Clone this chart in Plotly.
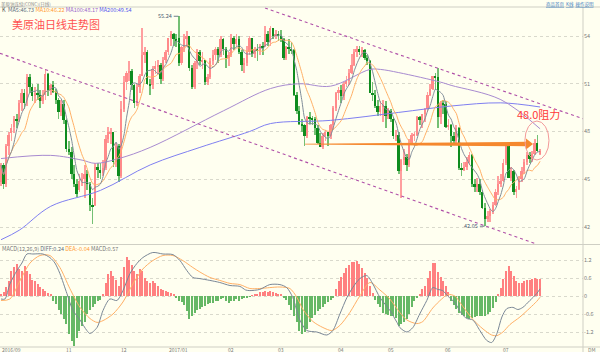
import plotly.graph_objects as go
import pandas as pd

# ---------------- data ----------------
MONTH_TICK_IDX = [2, 26, 47, 68, 88, 107, 130, 149, 171, 193]
MONTH_TICK_TEXT = ["2016/09", "11", "12", "2017/01", "02", "03", "04", "05", "06", "07"]

OPEN = [44.8, 45.9, 44.7, 47.1, 47.9, 48.3, 48.8, 48.7, 49.8, 50.4,
        50.0, 51.4, 50.8, 50.2, 50.4, 50.3, 49.9, 50.3, 51.6, 50.6,
        50.9, 50.5, 50.0, 49.2, 49.7, 48.7, 46.9, 46.7, 45.3, 44.7,
        44.3, 44.9, 45.0, 45.3, 44.7, 43.4, 43.4, 45.8, 45.6, 45.4,
        45.7, 47.5, 47.9, 48.0, 46.1, 47.1, 45.2, 49.4, 51.1, 51.7,
        51.8, 50.9, 49.8, 50.8, 51.5, 52.8, 53.0, 51.0, 50.9, 51.9,
        52.1, 52.2, 51.3, 52.5, 53.0, 53.9, 54.1, 53.8, 53.9, 52.3,
        53.3, 53.8, 54.0, 52.0, 50.8, 52.3, 53.0, 52.4, 52.5, 51.1,
        51.4, 52.4, 52.8, 53.2, 52.8, 53.8, 53.2, 52.6, 52.8, 53.9,
        53.5, 53.8, 53.0, 52.2, 52.3, 53.0, 53.9, 52.9, 53.2, 53.1,
        53.4, 53.4, 54.1, 53.6, 54.5, 54.0, 54.1, 54.0, 53.8, 52.6,
        53.3, 53.2, 53.1, 50.3, 49.3, 48.5, 48.4, 47.7, 48.9, 48.8,
        48.8, 48.2, 47.3, 47.0, 47.7, 48.0, 47.7, 48.4, 49.5, 50.4,
        50.6, 50.2, 51.0, 51.2, 51.7, 52.2, 53.0, 53.2, 53.0, 53.1,
        52.6, 52.4, 50.4, 50.3, 49.6, 49.2, 49.6, 49.6, 49.0, 49.3,
        48.8, 47.7, 47.8, 45.5, 46.2, 46.4, 45.9, 47.3, 47.75, 47.8,
        48.9, 48.7, 49.1, 49.4, 50.3, 50.7, 51.5, 51.4, 48.9, 49.8,
        49.7, 48.3, 48.4, 47.7, 47.4, 48.2, 45.7, 45.6, 45.8, 46.1,
        46.5, 44.7, 44.5, 44.7, 44.2, 43.2, 42.5, 42.7, 43.0, 43.4,
        44.2, 44.7, 44.9, 46.0, 47.1, 45.1, 45.5, 44.2, 44.4, 45.0,
        45.5, 46.1, 46.5, 46.3, 46.6, 47.3, 46.6]
HIGH = [46.0, 46.0, 47.2, 48.0, 48.5, 49.0, 49.1, 50.0, 50.7, 50.7,
        51.6, 51.6, 51.0, 50.8, 51.0, 50.6, 50.6, 51.9, 51.7, 51.0,
        51.2, 50.7, 50.1, 50.0, 50.0, 48.8, 47.4, 47.0, 45.9, 45.0,
        45.3, 45.4, 45.9, 45.6, 44.8, 43.8, 46.0, 46.0, 46.0, 46.2,
        47.8, 48.3, 48.2, 48.0, 47.3, 47.2, 49.9, 51.5, 51.8, 52.4,
        51.9, 51.0, 51.0, 51.6, 54.5, 53.3, 53.1, 51.3, 52.1, 52.4,
        52.5, 52.3, 52.7, 53.1, 53.9, 54.3, 54.2, 54.1, 55.24, 53.4,
        54.1, 54.3, 54.0, 52.2, 52.4, 53.2, 53.1, 53.0, 52.5, 51.6,
        52.6, 53.1, 53.3, 53.3, 54.0, 53.9, 53.3, 53.0, 54.1, 54.0,
        54.1, 54.0, 53.1, 52.6, 53.4, 54.0, 53.9, 53.3, 53.5, 53.5,
        53.6, 54.6, 54.3, 54.6, 54.5, 54.4, 54.3, 54.4, 53.9, 53.4,
        53.8, 53.6, 53.2, 50.5, 49.6, 48.8, 48.5, 49.0, 49.2, 49.0,
        48.9, 48.4, 47.9, 47.9, 48.1, 48.0, 48.5, 49.6, 50.5, 50.8,
        50.9, 51.1, 51.5, 51.9, 52.9, 53.2, 53.4, 53.4, 53.3, 53.2,
        52.8, 52.5, 51.1, 50.6, 50.0, 49.9, 50.0, 49.9, 49.5, 49.4,
        48.9, 48.1, 48.0, 46.3, 46.9, 46.6, 47.5, 47.9, 48.0, 49.0,
        49.0, 49.1, 49.5, 50.5, 51.0, 51.5, 51.7, 52.0, 49.9, 50.0,
        49.9, 48.8, 48.5, 48.0, 48.4, 48.3, 46.0, 46.1, 46.4, 46.7,
        46.6, 45.0, 45.1, 45.0, 44.3, 43.5, 43.0, 43.1, 43.6, 44.4,
        45.2, 45.3, 46.3, 47.3, 47.3, 45.8, 45.6, 44.6, 45.2, 45.8,
        46.3, 46.7, 46.7, 46.8, 47.5, 47.8, 46.9]
LOW = [44.6, 44.4, 44.5, 46.5, 47.4, 47.9, 48.2, 48.6, 49.3, 49.4,
       49.6, 50.4, 49.9, 49.8, 50.0, 49.5, 49.7, 50.0, 50.2, 50.3,
       50.4, 49.7, 48.8, 49.0, 48.5, 46.7, 46.5, 45.0, 44.5, 43.9,
       44.2, 44.6, 43.8, 44.3, 43.0, 42.2, 43.3, 45.1, 45.0, 45.2,
       45.6, 47.3, 47.2, 45.8, 45.8, 44.8, 45.1, 49.2, 50.6, 51.2,
       50.6, 49.5, 49.6, 50.4, 51.5, 52.3, 50.9, 50.3, 50.7, 51.6,
       51.6, 51.0, 51.2, 52.3, 52.8, 53.4, 53.4, 53.3, 52.1, 52.2,
       53.0, 53.3, 51.8, 50.7, 50.7, 51.9, 52.2, 51.9, 50.9, 50.9,
       51.3, 52.2, 52.5, 52.3, 52.7, 52.8, 52.0, 52.1, 52.7, 53.1,
       53.3, 52.9, 51.8, 51.7, 52.1, 52.8, 52.7, 52.6, 52.4, 52.8,
       52.8, 53.3, 53.4, 53.4, 53.8, 53.8, 53.7, 53.6, 52.5, 52.5,
       52.9, 52.9, 50.2, 49.1, 48.4, 48.0, 47.1, 47.6, 48.5, 48.4,
       47.8, 47.2, 47.0, 46.9, 47.4, 47.1, 47.5, 48.1, 49.3, 50.0,
       49.8, 50.0, 50.8, 50.9, 51.6, 52.1, 52.7, 52.8, 52.7, 52.5,
       52.2, 50.4, 49.9, 49.5, 49.0, 49.0, 48.6, 48.2, 48.8, 48.6,
       47.5, 47.4, 45.3, 43.8, 45.9, 45.5, 45.8, 47.2, 47.4, 47.7,
       48.4, 48.2, 48.6, 49.2, 50.2, 50.6, 50.6, 48.2, 48.5, 49.1,
       48.2, 48.1, 47.0, 47.2, 47.3, 45.6, 45.2, 45.5, 45.6, 45.9,
       44.5, 44.2, 44.2, 44.0, 43.1, 42.05, 42.3, 42.3, 42.8, 43.3,
       44.0, 44.5, 44.8, 45.9, 45.1, 44.9, 44.0, 43.8, 44.3, 44.8,
       45.3, 45.9, 46.0, 46.1, 46.5, 46.7, 46.5]
CLOSE = [45.9, 44.7, 47.1, 47.8, 48.2, 48.8, 48.7, 49.8, 50.4, 49.8,
         51.4, 50.8, 50.2, 50.4, 50.3, 49.9, 50.3, 51.6, 50.6, 50.9,
         50.5, 50.0, 49.2, 49.7, 48.7, 46.9, 46.7, 45.3, 44.7, 44.1,
         44.9, 45.0, 45.3, 44.7, 43.4, 43.3, 45.8, 45.6, 45.4, 45.7,
         47.5, 48.0, 48.0, 46.1, 47.1, 45.2, 49.4, 51.1, 51.7, 51.8,
         50.9, 49.8, 50.8, 51.5, 52.8, 53.0, 51.0, 50.9, 51.9, 52.1,
         52.2, 51.3, 52.5, 53.0, 53.9, 54.1, 53.8, 53.7, 52.3, 53.3,
         53.8, 54.0, 52.0, 50.8, 52.3, 53.0, 52.4, 52.5, 51.1, 51.4,
         52.4, 52.8, 53.2, 52.8, 53.8, 53.2, 52.6, 52.8, 53.9, 53.5,
         53.8, 53.0, 52.2, 52.3, 53.0, 53.9, 52.9, 53.2, 53.1, 53.4,
         53.3, 54.1, 53.6, 54.5, 54.0, 54.1, 54.0, 53.8, 52.6, 53.3,
         53.2, 53.1, 50.3, 49.3, 48.5, 48.4, 47.7, 48.9, 48.8, 48.75,
         48.2, 47.3, 47.0, 47.7, 48.0, 47.7, 48.4, 49.5, 50.4, 50.6,
         50.2, 51.0, 51.2, 51.7, 52.2, 53.0, 53.2, 53.0, 53.1, 52.6,
         52.4, 50.4, 50.3, 49.6, 49.2, 49.6, 49.6, 49.0, 49.3, 48.8,
         47.7, 47.8, 45.5, 46.2, 46.4, 45.9, 47.3, 47.8, 47.85, 48.9,
         48.7, 49.1, 49.4, 50.3, 50.7, 51.5, 51.4, 48.9, 49.8, 49.7,
         48.3, 48.4, 47.7, 47.4, 48.2, 45.7, 45.6, 45.8, 46.1, 46.5,
         44.7, 44.5, 44.7, 44.2, 43.2, 42.5, 42.7, 43.0, 43.4, 44.2,
         44.7, 44.9, 46.0, 47.1, 45.1, 45.5, 44.2, 44.4, 45.0, 45.5,
         46.1, 46.5, 46.3, 46.6, 47.3, 46.8, 46.8]

MACD_HIST = [0.08, 0.15, 0.30, 0.50, 0.85, 0.96, 1.08, 0.90, 0.85, 1.00,
             0.85, 0.75, 0.55, 0.50, 0.40, 0.30, 0.25, 0.18, 0.10, 0.04,
             -0.15, -0.28, -0.45, -0.60, -0.75, -0.92, -1.25, -1.50, -1.65, -1.40,
             -1.15, -1.00, -0.85, -0.60, -0.45, -0.37, -0.25, -0.18, -0.12, 0.05,
             0.45, 0.75, 0.85, 0.68, 0.55, 0.35, 0.65, 0.96, 1.30, 1.20,
             1.05, 0.85, 0.75, 0.90, 0.85, 0.60, 0.50, 0.45, 0.50, 0.42,
             0.35, 0.25, 0.20, 0.18, 0.12, 0.10, 0.06, -0.05, -0.15, -0.20,
             -0.30, -0.50, -0.75, -0.65, -0.55, -0.48, -0.42, -0.38, -0.32, -0.28,
             -0.22, -0.22, -0.18, -0.15, -0.10, -0.05, -0.15, -0.22, -0.18, -0.15,
             -0.10, -0.15, -0.10, -0.08, -0.05, -0.02, 0.02, 0.04, 0.06, 0.12,
             0.15, 0.18, 0.15, 0.17, 0.13, 0.10, 0.08, 0.04, -0.05, -0.12,
             -0.30, -0.45, -0.65, -0.85, -1.15, -1.25, -1.20, -1.10, -0.85, -0.72,
             -0.62, -0.50, -0.42, -0.36, -0.28, -0.20, -0.12, -0.05, 0.25, 0.50,
             0.65, 0.78, 0.92, 1.05, 1.12, 1.15, 1.18, 1.08, 0.95, 0.78,
             0.60, 0.35, 0.10, -0.12, -0.25, -0.38, -0.55, -0.60, -0.63, -0.65,
             -0.68, -0.72, -1.00, -0.92, -0.85, -0.75, -0.60, -0.38, -0.18, -0.05,
             0.08, 0.25, 0.35, 0.60, 0.85, 1.10, 1.10, 0.80, 0.62, 0.50,
             0.35, 0.15, -0.15, -0.30, -0.42, -0.55, -0.62, -0.68, -0.72, -0.75,
             -0.73, -0.70, -0.68, -0.65, -0.68, -0.66, -0.60, -0.52, -0.40, -0.20,
             0.05, 0.28, 0.58, 0.85, 1.00, 0.85, 0.68, 0.50, 0.45, 0.45,
             0.50, 0.55, 0.52, 0.58, 0.60, 0.58, 0.57]

DIFF_X = [0, 1.5, 3.4, 6.1, 8, 9.9, 12.2, 16, 18.7, 20.6,
          22.5, 25.2, 27.5, 30.2, 32.8, 34, 36.7, 39, 41.6, 44.3,
          46.6, 49.3, 51.9, 54.2, 58, 61.9, 65.7, 68.4, 71, 73.3,
          76, 79.8, 83.6, 87.5, 91.3, 93.5, 95.1, 98.9, 102.7, 106.6,
          109.2, 111.5, 114.2, 116.9, 120.7, 124.5, 126.8, 129.5, 132.2, 134.4,
          137.1, 139.8, 142.1, 144.8, 148.6, 151.3, 152.4, 155.1, 157.4, 160,
          162.7, 165, 166.9, 168.8, 170.7, 173.4, 176.1, 178, 180.3, 183,
          185.6, 187.5, 189.5, 191.4, 193.3, 195.6, 197.5, 199.4, 202.1, 204.7,
          206]
DIFF_Y = [-0.10, -0.10, 0.40, 0.85, 1.10, 1.40, 1.40, 1.40, 1.28, 1.10,
          0.75, 0.08, -0.48, -0.80, -1.15, -1.25, -1.05, -0.48, -0.10, -0.15,
          0.18, 0.75, 1.08, 1.28, 1.45, 1.40, 1.38, 1.18, 0.85, 0.62,
          0.58, 0.52, 0.45, 0.35, 0.32, 0.20, 0.18, 0.22, 0.38, 0.38,
          0.28, -0.05, -0.80, -1.15, -1.20, -1.30, -1.15, -0.60, -0.05, 0.28,
          0.58, 0.68, 0.40, -0.05, -0.48, -0.88, -1.05, -1.20, -1.05, -0.60,
          -0.15, 0.28, 0.22, 0.18, 0.00, -0.22, -0.60, -0.75, -0.80, -1.15,
          -1.48, -1.55, -1.25, -0.70, -0.42, -0.38, -0.45, -0.38, -0.15, 0.08,
          0.24]
DEA_X = [0, 3.4, 7.2, 11.1, 14.9, 18.7, 22.5, 26.3, 30.2, 34,
         36.7, 39, 42.8, 46.6, 50.4, 54.2, 58, 61.9, 65.7, 69.5,
         73.3, 76, 79.8, 83.6, 87.5, 91.3, 95.1, 98.9, 102.7, 106.6,
         110.4, 113.1, 115.4, 119.2, 123, 126.4, 129.5, 133.3, 137.1, 141,
         144.8, 148.6, 152.4, 155.1, 158.9, 161.2, 165, 168.4, 170.7, 173.4,
         176.5, 180.3, 184.2, 187.5, 189.5, 191.8, 194.5, 198.3, 202.1, 204.7,
         206]
DEA_Y = [-0.15, -0.10, 0.50, 1.10, 1.35, 1.35, 0.95, 0.25, -0.38, -0.75,
         -0.88, -0.82, -0.60, -0.20, 0.40, 0.90, 1.18, 1.35, 1.35, 1.18,
         0.95, 0.80, 0.62, 0.52, 0.42, 0.38, 0.25, 0.25, 0.28, 0.30,
         0.25, -0.05, -0.45, -0.85, -1.05, -1.15, -0.98, -0.55, 0.00, 0.45,
         0.20, -0.10, -0.55, -0.80, -0.92, -0.85, -0.40, -0.10, 0.05, 0.00,
         -0.35, -0.78, -1.10, -1.30, -1.32, -1.20, -0.95, -0.70, -0.40, -0.18,
         -0.04]

MA100_X = [0, 19, 31, 36, 45, 57, 85, 103, 114, 126, 141, 145, 152, 168, 172, 191, 206]
MA100_Y = [46.3, 46.5, 46.2, 46.0, 46.3, 47.0, 49.3, 50.7, 51.0, 50.85, 51.9, 51.9, 51.7, 51.1, 50.9, 50.0, 48.17]
MA200_X = [0, 7, 19, 38, 57, 76, 95, 103, 126, 152, 172, 191, 206]
MA200_Y = [41.2, 41.8, 43.3, 44.3, 45.9, 47.0, 48.0, 48.5, 48.7, 49.2, 49.6, 49.8, 49.54]

PRICE_TICKS = [42, 45, 48, 51, 54]
MACD_TICKS = [-1.2, -0.6, 0, 0.6, 1.2]
MACD_TICK_TEXT = ["-1.2", "-0.6", "0", "0.6", "1.2"]

# annotation geometry in data units (candle index, price)
TREND_LOWER_X = [-0.38, 204.05]
TREND_LOWER_Y = [52.91, 40.96]
TREND_UPPER_X = [100.9, 222.4]
TREND_UPPER_Y = [55.76, 48.80]
ARROW_X = [116.2, 203.3]
ARROW_LEVEL = 47.21
CIRCLE_X = [200.2, 209.4]
CIRCLE_Y = [46.21, 48.66]
RESIST_POS = (205.3, 49.10)
RESIST_TEXT = "48.0阻力"
TITLE = "美原油日线走势图"

# ---------------- styling ----------------
BG = "#fffff0"
UP_BODY, UP_WICK = "#ff8a8a", "#ff9f9f"
DN_BODY, DN_WICK = "#0e8c1e", "#74c074"
C_MA5, C_MA10, C_MA100, C_MA200 = "#7f8c99", "#ffb066", "#a88bd0", "#7f7ff0"
FONT = "Noto Sans CJK SC"
XR = [-0.38, 222.4]
PR = [40.932, 55.822]
MR = [-1.7, 1.7]
H = 352.0
W_PLOT = 583.0

def py(p):
    return 1 - p / H

N = len(CLOSE)
IDX = list(range(N))
is_up = [c >= o for o, c in zip(OPEN, CLOSE)]
body_base = [min(o, c) for o, c in zip(OPEN, CLOSE)]
body_h = [max(abs(c - o), 0.05) for o, c in zip(OPEN, CLOSE)]
wick_h = [h - l for h, l in zip(HIGH, LOW)]

closes = pd.Series(CLOSE)
ma5 = closes.rolling(5, min_periods=1).mean()
ma10 = closes.rolling(10, min_periods=1).mean()

fig = go.Figure()
fig.add_trace(go.Bar(x=IDX, y=wick_h, base=LOW, width=0.3,
                     marker=dict(color=[UP_WICK if u else DN_WICK for u in is_up], line=dict(width=0)),
                     xaxis="x", yaxis="y", hoverinfo="skip"))
fig.add_trace(go.Bar(x=IDX, y=body_h, base=body_base, width=0.72,
                     marker=dict(color=[UP_BODY if u else DN_BODY for u in is_up], line=dict(width=0)),
                     xaxis="x", yaxis="y", hoverinfo="skip"))
fig.add_trace(go.Scatter(x=MA200_X, y=MA200_Y, mode="lines", line=dict(color=C_MA200, width=1, shape="spline"),
                         xaxis="x", yaxis="y"))
fig.add_trace(go.Scatter(x=MA100_X, y=MA100_Y, mode="lines", line=dict(color=C_MA100, width=1, shape="spline"),
                         xaxis="x", yaxis="y"))
fig.add_trace(go.Scatter(x=IDX, y=ma10, mode="lines", line=dict(color=C_MA10, width=1, shape="spline", smoothing=0.6),
                         xaxis="x", yaxis="y"))
fig.add_trace(go.Scatter(x=IDX, y=ma5, mode="lines", line=dict(color=C_MA5, width=1, shape="spline", smoothing=0.6),
                         xaxis="x", yaxis="y"))

# MACD panel
fig.add_trace(go.Bar(x=IDX, y=MACD_HIST, width=0.42,
                     marker=dict(color=["#ff8080" if v >= 0 else "#66b866" for v in MACD_HIST], line=dict(width=0)),
                     xaxis="x2", yaxis="y2", hoverinfo="skip"))
fig.add_trace(go.Scatter(x=DEA_X, y=DEA_Y, mode="lines", line=dict(color=C_MA10, width=1, shape="spline", smoothing=0.8),
                         xaxis="x2", yaxis="y2"))
fig.add_trace(go.Scatter(x=DIFF_X, y=DIFF_Y, mode="lines", line=dict(color="#7a8796", width=1, shape="spline", smoothing=0.8),
                         xaxis="x2", yaxis="y2"))

shapes = []
# channel lines
for xs, ys in ((TREND_LOWER_X, TREND_LOWER_Y), (TREND_UPPER_X, TREND_UPPER_Y)):
    shapes.append(dict(type="line", xref="x", yref="y", x0=xs[0], x1=xs[1], y0=ys[0], y1=ys[1],
                       line=dict(color="#b050a8", width=1.1, dash="dot")))
# tapered orange arrow
ppx = (PR[1] - PR[0]) / (H * (py(7) - py(244)))  # price per pixel
ipx = (XR[1] - XR[0]) / W_PLOT                    # index per pixel
xa, xb, lv = ARROW_X[0], ARROW_X[1], ARROW_LEVEL
xh = xb - 7 * ipx
path = (f"M {xa},{lv - 0.4 * ppx} L {xh},{lv - 2.2 * ppx} L {xh},{lv - 5.5 * ppx} L {xb},{lv} "
        f"L {xh},{lv + 5.5 * ppx} L {xh},{lv + 2.2 * ppx} L {xa},{lv + 0.4 * ppx} Z")
shapes.append(dict(type="path", xref="x", yref="y", path=path, fillcolor="#f5882e", line=dict(width=0)))
# circle
shapes.append(dict(type="circle", xref="x", yref="y", x0=CIRCLE_X[0], x1=CIRCLE_X[1],
                   y0=CIRCLE_Y[0], y1=CIRCLE_Y[1], line=dict(color="#f39a9a", width=1)))
# extreme markers
hi_i = HIGH.index(max(HIGH))
lo_i = LOW.index(min(LOW))
shapes.append(dict(type="line", xref="x", yref="y", x0=hi_i - 2.0, x1=hi_i - 0.2, y0=HIGH[hi_i], y1=HIGH[hi_i],
                   line=dict(color="#4a5a70", width=0.8)))
shapes.append(dict(type="line", xref="x", yref="y", x0=lo_i - 2.0, x1=lo_i - 0.2, y0=LOW[lo_i], y1=LOW[lo_i],
                   line=dict(color="#4a5a70", width=0.8)))
# frame lines
for yy in (7, 244.5, 347):
    shapes.append(dict(type="line", xref="paper", yref="paper", x0=0, x1=600 / W_PLOT, y0=py(yy), y1=py(yy),
                       line=dict(color="#cfcfc4", width=1)))
shapes.append(dict(type="line", xref="paper", yref="paper", x0=1, x1=1, y0=py(352), y1=py(7),
                   line=dict(color="#cfcfc4", width=1)))

small = dict(family=FONT, size=5.5, color="#7a7a7a")
ann = []
ann.append(dict(xref="paper", yref="paper", x=0.0, y=1.0, xanchor="left", yanchor="top", showarrow=False,
                borderpad=0, text="美原油连续(CONC)(日线)", font=dict(family=FONT, size=4.5, color="#8a8a8a")))
ann.append(dict(xref="paper", yref="paper", x=545 / W_PLOT, y=1.0, xanchor="left", yanchor="top", showarrow=False,
                borderpad=0, text="<u>商品首页</u>  <u>K线</u>  <u>操作说明</u>",
                font=dict(family=FONT, size=4.5, color="#3f7fbf")))
ann.append(dict(xref="paper", yref="paper", x=0.0, y=py(9.8), xanchor="left", yanchor="middle", showarrow=False,
                text=(f'<span style="color:#555">K</span>  <span style="color:#5d6b7a">MA5:46.73</span> '
                      f'<span style="color:#ff9a33">MA10:46.22</span> <span style="color:#9a66cc">MA100:48.17</span> '
                      f'<span style="color:#5555ee">MA200:49.54</span>'),
                font=dict(family=FONT, size=5.5)))
ann.append(dict(xref="paper", yref="paper", x=0.0, y=py(248.5), xanchor="left", yanchor="middle", showarrow=False,
                text=('<span style="color:#777">MACD(12,26,9)</span> <span style="color:#5d6b7a">DIFF:0.24</span> '
                      '<span style="color:#ff9a33">DEA:-0.04</span> <span style="color:#777">MACD:0.57</span>'),
                font=dict(family=FONT, size=5.5)))
ann.append(dict(xref="paper", yref="paper", x=10 / W_PLOT, y=py(24.5), xanchor="left", yanchor="middle", showarrow=False,
                text=TITLE, font=dict(family=FONT, size=11, color="#ff5252")))
ann.append(dict(xref="x", yref="y", x=RESIST_POS[0], y=RESIST_POS[1], xanchor="center", yanchor="middle",
                showarrow=False, text=RESIST_TEXT, font=dict(family=FONT, size=11, color="#ff3838")))
ann.append(dict(xref="x", yref="y", x=hi_i - 2.0, y=HIGH[hi_i], xanchor="right", yanchor="middle", showarrow=False,
                text=f"{HIGH[hi_i]:.2f}", font=dict(family=FONT, size=5.5, color="#4a5a70")))
ann.append(dict(xref="x", yref="y", x=lo_i - 2.0, y=LOW[lo_i], xanchor="right", yanchor="middle", showarrow=False,
                text=f"{LOW[lo_i]:.2f}", font=dict(family=FONT, size=5.5, color="#4a5a70")))
ann.append(dict(xref="paper", yref="paper", x=586 / W_PLOT, y=py(349), xanchor="left", yanchor="middle",
                showarrow=False, text="DM", font=dict(family=FONT, size=5, color="#7a7a7a")))
# month labels along the bottom
for k, (ti, tt) in enumerate(zip(MONTH_TICK_IDX, MONTH_TICK_TEXT)):
    if k == 0:
        ann.append(dict(xref="paper", yref="paper", x=0.0, y=py(349), xanchor="left", yanchor="middle",
                        showarrow=False, text=tt, font=dict(family=FONT, size=5, color="#7a7a7a")))
    else:
        ann.append(dict(xref="x2", yref="paper", x=ti, y=py(349), xanchor="center", yanchor="middle",
                        showarrow=False, text=tt, font=dict(family=FONT, size=5, color="#7a7a7a")))

fig.update_layout(
    width=600, height=352, margin=dict(l=0, r=17, t=0, b=0),
    paper_bgcolor=BG, plot_bgcolor=BG, showlegend=False, barmode="overlay", bargap=0,
    xaxis=dict(domain=[0, 1], range=XR, anchor="y", showticklabels=False, showgrid=False, zeroline=False,
               showline=False, ticks=""),
    xaxis2=dict(domain=[0, 1], range=XR, anchor="y2", showticklabels=False, showgrid=False, zeroline=False,
                showline=False, ticks="", automargin=False),
    yaxis=dict(domain=[py(244), py(7)], range=PR, side="right", anchor="x", tickmode="array",
               tickvals=PRICE_TICKS, ticktext=[str(t) for t in PRICE_TICKS], tickfont=small, showgrid=True,
               gridcolor="#d9d9cc", griddash="dot", gridwidth=1, zeroline=False, showline=False, ticks="",
               automargin=False),
    yaxis2=dict(domain=[py(347), py(245)], range=MR, side="right", anchor="x2", tickmode="array",
                tickvals=MACD_TICKS, ticktext=MACD_TICK_TEXT, tickfont=small, showgrid=True,
                gridcolor="#d9d9cc", griddash="dot", gridwidth=1, zeroline=False, showline=False, ticks="",
                automargin=False),
    shapes=shapes, annotations=ann,
)

fig.write_html("out.html")
